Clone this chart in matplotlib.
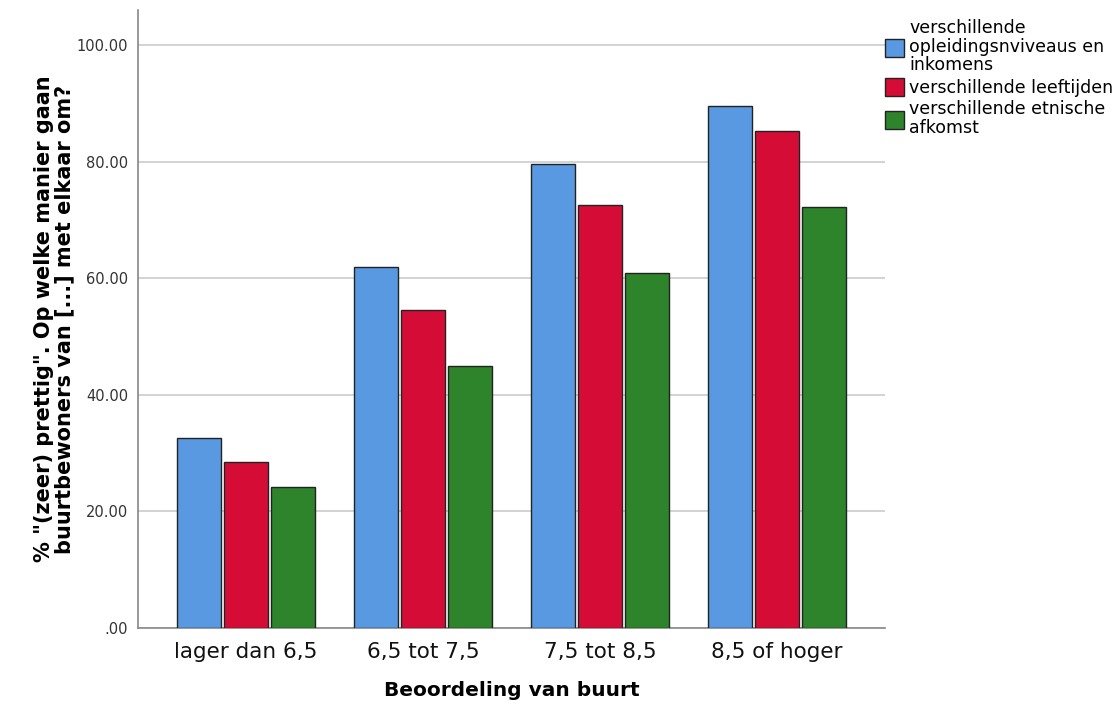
import matplotlib
matplotlib.use("Agg")
import matplotlib.pyplot as plt
import numpy as np

categories = ["lager dan 6,5", "6,5 tot 7,5", "7,5 tot 8,5", "8,5 of hoger"]
series_names = ["verschillende\nopleidingsnviveaus en\ninkomens",
                "verschillende leeftijden",
                "verschillende etnische\nafkomst"]
opleiding = [32.6, 61.9, 79.6, 89.5]
leeftijden = [28.5, 54.5, 72.6, 85.2]
etnisch = [24.2, 44.9, 60.9, 72.2]
colors = ["#5899E2", "#D50D36", "#2E842B"]
yticks = [0, 20, 40, 60, 80, 100]
ytick_labels = [".00", "20.00", "40.00", "60.00", "80.00", "100.00"]

fig = plt.figure(figsize=(11.15, 7.07), dpi=100)
ax = fig.add_axes([0.1238, 0.1117, 0.6699, 0.8743])

x = np.arange(len(categories))
step = 0.268
width = 0.249
for i, (vals, name, c) in enumerate(zip([opleiding, leeftijden, etnisch], series_names, colors)):
    ax.bar(x + (i - 1) * step, vals, width, color=c, edgecolor="#222222",
           linewidth=1.0, label=name, zorder=3)

ax.set_xlim(-0.61, 3.61)
ax.set_ylim(0, 106)
ax.set_yticks(yticks)
ax.set_yticklabels(ytick_labels, fontsize=10.5, color="#333333")
ax.set_xticks(x)
ax.set_xticklabels(categories, fontsize=15.5, color="#111111")
ax.tick_params(axis="both", length=0)
ax.tick_params(axis="x", pad=10)
ax.tick_params(axis="y", pad=7)
ax.grid(axis="y", color="#cccccc", linewidth=1.2, zorder=0)
for s in ["top", "right"]:
    ax.spines[s].set_visible(False)
for s in ["left", "bottom"]:
    ax.spines[s].set_color("#888888")
    ax.spines[s].set_linewidth(1.2)

ax.set_xlabel("Beoordeling van buurt", fontsize=14.5, fontweight="bold", labelpad=14)
ax.set_ylabel('% "(zeer) prettig". Op welke manier gaan\nbuurtbewoners van [...] met elkaar om?',
              fontsize=15, fontweight="bold", labelpad=2, linespacing=1.0)

leg = ax.legend(loc="upper left", bbox_to_anchor=(1.0, 0.985), frameon=False,
                fontsize=12.5, handlelength=1.1, handleheight=1.2, handletextpad=0.3,
                labelspacing=0.22, borderaxespad=0.0, borderpad=0.0)
for t in leg.get_texts():
    t.set_linespacing(1.03)

fig.savefig("out.png", dpi=100)
